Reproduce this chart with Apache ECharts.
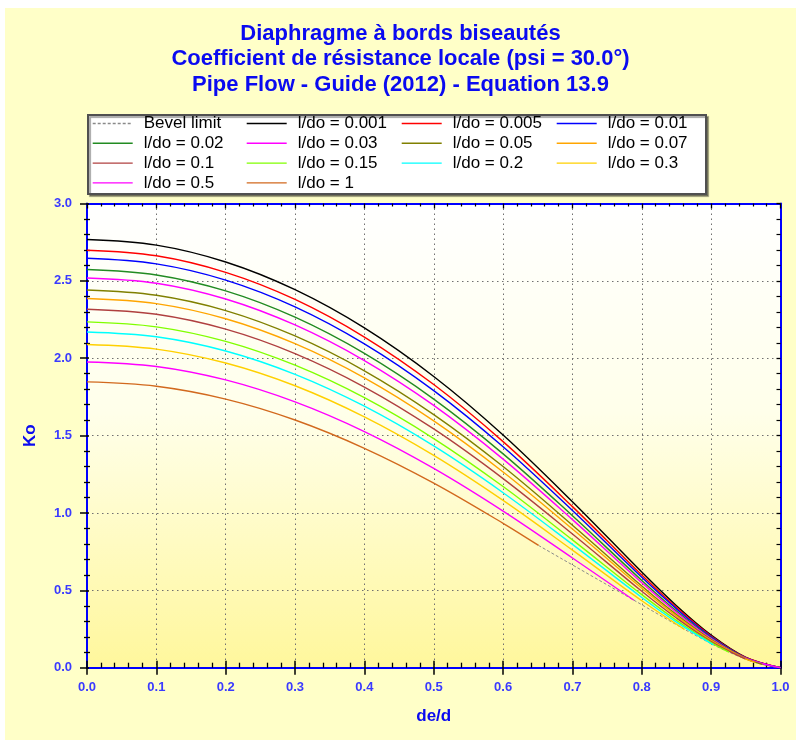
<!DOCTYPE html>
<html>
<head>
<meta charset="utf-8">
<script src="https://cdn.jsdelivr.net/npm/echarts@6/dist/echarts.min.js"></script>
<style>
  html, body { margin: 0; padding: 0; background: #ffffff; }
  #chart { position: absolute; left: 5px; top: 8px; width: 791px; height: 732px; }
</style>
</head>
<body>
<div id="chart"></div>
<script>
// ---- data ----
const titleLines = [
  'Diaphragme à bords biseautés',
  'Coefficient de résistance locale (psi = 30.0°)',
  'Pipe Flow - Guide (2012) - Equation 13.9'
];
const xName = 'de/d';
const yName = 'Ko';
const xTicks = [0, 0.1, 0.2, 0.3, 0.4, 0.5, 0.6, 0.7, 0.8, 0.9, 1.0];
const yTicks = [0, 0.5, 1.0, 1.5, 2.0, 2.5, 3.0];

// common abscissa (de/d) for the curves
const deD = [0, 0.1, 0.2, 0.3, 0.4, 0.5, 0.6, 0.7, 0.8, 0.85, 0.9, 0.95, 1.0];

const seriesNames = ['l/do = 0.001', 'l/do = 0.005', 'l/do = 0.01', 'l/do = 0.02', 'l/do = 0.03',
  'l/do = 0.05', 'l/do = 0.07', 'l/do = 0.1', 'l/do = 0.15', 'l/do = 0.2', 'l/do = 0.3',
  'l/do = 0.5', 'l/do = 1'];

const k0001 = [2.767, 2.731, 2.622, 2.443, 2.196, 1.882, 1.504, 1.073, 0.618, 0.401, 0.211, 0.067, 0];
const k0005 = [2.698, 2.662, 2.555, 2.380, 2.137, 1.830, 1.461, 1.041, 0.599, 0.389, 0.205, 0.066, 0];
const k001  = [2.646, 2.610, 2.505, 2.332, 2.093, 1.791, 1.428, 1.016, 0.584, 0.380, 0.200, 0.064, 0];
const k002  = [2.573, 2.538, 2.435, 2.265, 2.031, 1.736, 1.382, 0.982, 0.564, 0.366, 0.193, 0.062, 0];
const k003  = [2.519, 2.485, 2.383, 2.215, 1.985, 1.695, 1.348, 0.957, 0.549, 0.357, 0.188, 0.061, 0];
const k005  = [2.441, 2.407, 2.308, 2.144, 1.919, 1.636, 1.300, 0.921, 0.528, 0.343, 0.181, 0.059];
const k007  = [2.386, 2.353, 2.255, 2.094, 1.873, 1.595, 1.265, 0.896, 0.513, 0.333, 0.176, 0.057];
const k01   = [2.317, 2.284, 2.188, 2.030, 1.814, 1.543, 1.222, 0.864, 0.494, 0.321, 0.169];
const k015  = [2.235, 2.203, 2.109, 1.955, 1.745, 1.481, 1.171, 0.826, 0.472, 0.306, 0.162];
const k02   = [2.170, 2.139, 2.047, 1.896, 1.690, 1.433, 1.131, 0.797, 0.454, 0.295];
const k03   = [2.089, 2.059, 1.969, 1.822, 1.621, 1.372, 1.081, 0.760, 0.433];
const k05   = [1.976, 1.947, 1.860, 1.718, 1.526, 1.288, 1.012, 0.709];
const k1    = [1.847, 1.819, 1.736, 1.601, 1.418, 1.193, 0.933];
const seriesValues = [k0001, k0005, k001, k002, k003, k005, k007, k01, k015, k02, k03, k05, k1];

// end points of the truncated curves (they stop on the bevel limit)
const endX = [null, null, null, null, null, 0.9739, 0.9638, 0.9491, 0.9256, 0.9032, 0.8616, 0.7887, 0.6511];
const endK = [null, null, null, null, null, 0.021, 0.034, 0.057, 0.101, 0.148, 0.248, 0.436, 0.790];

// bevel limit (dashed)
const bevelName = 'Bevel limit';
const bevelX = [0.6511, 0.7887, 0.8616, 0.9032, 0.9256, 0.9491, 0.9638, 0.9739, 0.9842, 0.9894, 0.9947, 1.0];
const bevelK = [0.790, 0.436, 0.248, 0.148, 0.101, 0.057, 0.034, 0.021, 0.010, 0.006, 0.002, 0];

// ---- styles ----
const seriesColors = ['#000000', '#FF0000', '#0000FF', '#228B22', '#FF00FF', '#808000', '#FFA500',
  '#B04040', '#80FF00', '#00FFFF', '#FFD000', '#FF00FF', '#D2691E'];
const FONT = '"Liberation Sans", Arial, sans-serif';
const LABEL_BLUE = '#3A3AFF';
const TITLE_BLUE = '#0A0AF0';

const chart = echarts.init(document.getElementById('chart'));

const series = [];
series.push({
  type: 'line', name: bevelName,
  data: bevelX.map((x, i) => [x, bevelK[i]]),
  symbol: 'none', smooth: 0.3,
  lineStyle: { color: '#8a8a8a', width: 1, type: [3, 2] },
  itemStyle: { color: '#8a8a8a' }, z: 2
});
seriesValues.forEach((vals, s) => {
  const data = vals.map((v, i) => [deD[i], v]);
  if (endX[s] !== null) data.push([endX[s], endK[s]]);
  series.push({
    type: 'line', name: seriesNames[s], data,
    symbol: 'none', smooth: 0.35,
    lineStyle: { color: seriesColors[s], width: 1.4 },
    itemStyle: { color: seriesColors[s] }, z: 3
  });
});

const legendCols = [
  [bevelName, seriesNames[3], seriesNames[7], seriesNames[11]],
  [seriesNames[0], seriesNames[4], seriesNames[8], seriesNames[12]],
  [seriesNames[1], seriesNames[5], seriesNames[9]],
  [seriesNames[2], seriesNames[6], seriesNames[10]]
];
const legendLeft = [87, 241, 396, 551];
const legends = legendCols.map((col, i) => ({
  orient: 'vertical', left: legendLeft[i], top: 107, padding: 0,
  itemWidth: 40, itemHeight: 14, itemGap: 2.8,
  data: col, selectedMode: false,
  itemStyle: { opacity: 0, borderWidth: 0 },
  lineStyle: { width: 1.4 },
  textStyle: { fontFamily: FONT, fontSize: 17, color: '#000', padding: [0, 0, 0, 6] }
}));

const fmt = v => (Math.round(v * 10) / 10).toFixed(1);
const gridBg = {
  type: 'linear', x: 0, y: 0, x2: 0, y2: 1,
  colorStops: [
    { offset: 0, color: '#FFFFFF' },
    { offset: 0.45, color: '#FFFFEA' },
    { offset: 1, color: '#FFF79C' }
  ]
};

chart.setOption({
  backgroundColor: '#FFFFC8',
  animation: false,
  title: {
    text: titleLines.join('\n'), left: 'center', top: 8,
    textStyle: { fontFamily: FONT, fontSize: 22, fontWeight: 'bold', color: TITLE_BLUE, lineHeight: 25.5 }
  },
  legend: legends,
  graphic: [{
    type: 'rect', left: 82, top: 106, z: 1,
    shape: { width: 618, height: 79 },
    style: { fill: '#ffffff', stroke: '#505050', lineWidth: 2,
      shadowColor: 'rgba(0,0,0,0.35)', shadowOffsetX: 2, shadowOffsetY: 2, shadowBlur: 1 }
  }],
  grid: { left: 82, top: 195.5, right: 15.5, bottom: 72.3, show: true, backgroundColor: gridBg, borderWidth: 0 },
  xAxis: [
    { type: 'value', min: xTicks[0], max: xTicks[xTicks.length - 1], interval: 0.1, position: 'bottom',
      name: xName, nameLocation: 'middle', nameGap: 40,
      nameTextStyle: { fontFamily: FONT, fontSize: 17, fontWeight: 'bold', color: TITLE_BLUE },
      axisLine: { onZero: false, lineStyle: { color: '#0000FF', width: 2 } },
      axisTick: { show: true, inside: false, length: 7, lineStyle: { color: '#000', width: 1.5 } },
      minorTick: { show: false },
      axisLabel: { formatter: fmt, margin: 13, fontFamily: FONT, fontSize: 13, fontWeight: 'bold', color: LABEL_BLUE },
      splitLine: { show: true, lineStyle: { color: '#707070', width: 1, type: [1.5, 3.5] } } },
    { type: 'value', min: 0, max: 1, interval: 0.1, position: 'bottom',
      axisLine: { show: false, onZero: false },
      axisTick: { show: true, inside: true, length: 7, lineStyle: { color: '#000', width: 1.5 } },
      minorTick: { show: true, splitNumber: 5, length: 5, lineStyle: { color: '#000', width: 1.3 } },
      axisLabel: { show: false }, splitLine: { show: false } },
    { type: 'value', min: 0, max: 1, interval: 0.1, position: 'top',
      axisLine: { show: true, onZero: false, lineStyle: { color: '#0000FF', width: 2 } },
      axisTick: { show: true, inside: true, length: 5, lineStyle: { color: '#000', width: 1.3 } },
      minorTick: { show: true, splitNumber: 5, length: 3, lineStyle: { color: '#000', width: 1.2 } },
      axisLabel: { show: false }, splitLine: { show: false } }
  ],
  yAxis: [
    { type: 'value', min: yTicks[0], max: yTicks[yTicks.length - 1], interval: 0.5, position: 'left',
      name: yName, nameLocation: 'middle', nameGap: 48,
      nameTextStyle: { fontFamily: FONT, fontSize: 17, fontWeight: 'bold', color: TITLE_BLUE },
      axisLine: { onZero: false, lineStyle: { color: '#0000FF', width: 2 } },
      axisTick: { show: true, inside: false, length: 7, lineStyle: { color: '#000', width: 1.5 } },
      minorTick: { show: true, splitNumber: 5, length: 3, lineStyle: { color: '#000', width: 1.3 } },
      axisLabel: { formatter: fmt, margin: 15, fontFamily: FONT, fontSize: 13, fontWeight: 'bold', color: LABEL_BLUE },
      splitLine: { show: true, lineStyle: { color: '#707070', width: 1, type: [1.5, 3.5] } } },
    { type: 'value', min: 0, max: 3, interval: 0.5, position: 'left',
      axisLine: { show: false, onZero: false },
      axisTick: { show: true, inside: true, length: 2, lineStyle: { color: '#000', width: 1.5 } },
      minorTick: { show: true, splitNumber: 5, length: 3, lineStyle: { color: '#000', width: 1.3 } },
      axisLabel: { show: false }, splitLine: { show: false } },
    { type: 'value', min: 0, max: 3, interval: 0.5, position: 'right',
      axisLine: { show: true, onZero: false, lineStyle: { color: '#0000FF', width: 2 } },
      axisTick: { show: true, inside: true, length: 4, lineStyle: { color: '#000', width: 1.3 } },
      minorTick: { show: true, splitNumber: 5, length: 4, lineStyle: { color: '#000', width: 1.2 } },
      axisLabel: { show: false }, splitLine: { show: false } }
  ],
  series: series
});
</script>
</body>
</html>
